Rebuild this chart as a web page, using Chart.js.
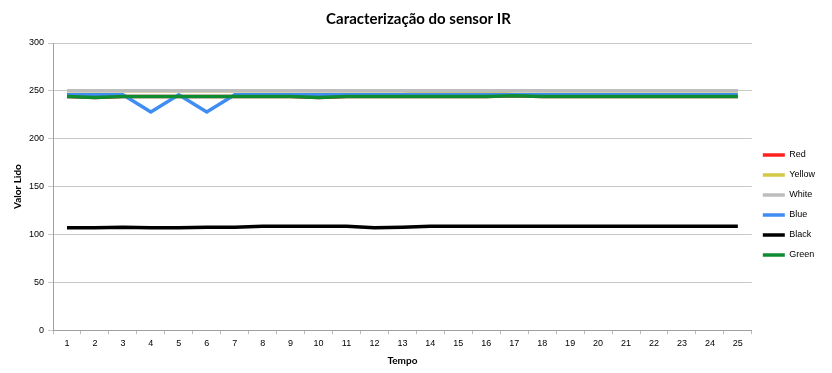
<!DOCTYPE html>
<html lang="pt">
<head>
  <meta charset="UTF-8">
  <title>Caracterização do sensor IR</title>
  <script src="https://cdn.jsdelivr.net/npm/chart.js"></script>
  <style>
    body { margin: 0; background: #fff; }
    #wrap { width: 832px; height: 373px; }
  </style>
</head>
<body>
<div id="wrap"><canvas id="irChart"></canvas></div>
<script>
  // Data
  const tempo = [1, 2, 3, 4, 5, 6, 7, 8, 9, 10, 11, 12, 13, 14, 15, 16, 17, 18, 19, 20, 21, 22, 23, 24, 25];
  const red    = [244, 243, 244, 244, 244, 244, 244, 244, 244, 243, 244, 244, 244, 244, 244, 244, 245, 244, 244, 244, 244, 244, 244, 244, 244];
  const yellow = [250, 250, 250, 250, 250, 250, 250, 250, 250, 250, 250, 250, 250, 248, 248, 248, 250, 250, 250, 250, 250, 250, 250, 250, 250];
  const white  = [250, 250, 250, 250, 250, 250, 250, 250, 250, 250, 250, 250, 250, 250, 250, 250, 250, 250, 250, 250, 250, 250, 250, 250, 250];
  const blue   = [246, 246, 246, 228, 246, 228, 246, 246, 246, 246, 246, 246, 246, 246, 246, 246, 246, 246, 246, 246, 246, 246, 246, 246, 246];
  const black  = [107, 107, 107.5, 107, 107, 107.5, 107.5, 108.5, 108.5, 108.5, 108.5, 107, 107.5, 108.5, 108.5, 108.5, 108.5, 108.5, 108.5, 108.5, 108.5, 108.5, 108.5, 108.5, 108.5];
  const green  = [244, 243, 244, 244, 244, 244, 244, 244, 244, 243, 244, 244, 244, 244, 244, 244, 245, 244, 244, 244, 244, 244, 244, 244, 244];
  const yTicks = [0, 50, 100, 150, 200, 250, 300];

  const series = [
    { label: 'Red',    data: red,    color: '#ff2020' },
    { label: 'Yellow', data: yellow, color: '#d2c845' },
    { label: 'White',  data: white,  color: '#bdbdbd' },
    { label: 'Blue',   data: blue,   color: '#3f8cf2' },
    { label: 'Black',  data: black,  color: '#000000' },
    { label: 'Green',  data: green,  color: '#0f8c32' }
  ];

  const tickFont = { family: 'Liberation Sans', size: 9 };
  const boldFont = { family: 'Lato', size: 10, weight: 'bold' };

  new Chart(document.getElementById('irChart'), {
    type: 'line',
    data: {
      labels: tempo,
      datasets: series.map((s, i) => ({
        label: s.label,
        data: s.data,
        borderColor: s.color,
        backgroundColor: s.color,
        borderWidth: 3.5,
        pointRadius: 0,
        pointStyle: 'line',
        tension: 0,
        order: series.length - i   // later series drawn on top
      }))
    },
    options: {
      responsive: true,
      maintainAspectRatio: false,
      animation: false,
      layout: { padding: { left: 12, right: 7, top: 4, bottom: 2 } },
      plugins: {
        title: {
          display: true,
          text: 'Caracterização do sensor IR',
          color: '#000',
          font: { family: 'Lato', size: 15, weight: 'bold' },
          padding: { top: 6, bottom: 15 }
        },
        legend: {
          position: 'right',
          title: { display: true, text: ' ', font: { size: 9 }, padding: { top: 0, bottom: 24 } },
          labels: {
            color: '#000',
            font: tickFont,
            usePointStyle: true,
            pointStyleWidth: 22,
            boxHeight: 9,
            padding: 11,
            sort: (a, b) => a.datasetIndex - b.datasetIndex
          }
        },
        tooltip: { enabled: false }
      },
      scales: {
        x: {
          offset: true,
          grid: { drawOnChartArea: false, offset: true, color: '#bdbdbd', tickLength: 4 },
          border: { color: '#a0a0a0' },
          ticks: { color: '#000', font: tickFont, maxRotation: 0, padding: 4 },
          title: { display: true, text: 'Tempo', color: '#000', font: boldFont, padding: { top: 2 } }
        },
        y: {
          min: 0,
          max: 300,
          afterBuildTicks: axis => { axis.ticks = yTicks.map(v => ({ value: v })); },
          grid: { color: '#c8c8c8', tickLength: 5 },
          border: { color: '#a0a0a0' },
          ticks: { color: '#000', font: tickFont, padding: 4 },
          title: { display: true, text: 'Valor Lido', color: '#000', font: boldFont, padding: { top: 0, bottom: 1 } }
        }
      }
    }
  });
</script>
</body>
</html>
